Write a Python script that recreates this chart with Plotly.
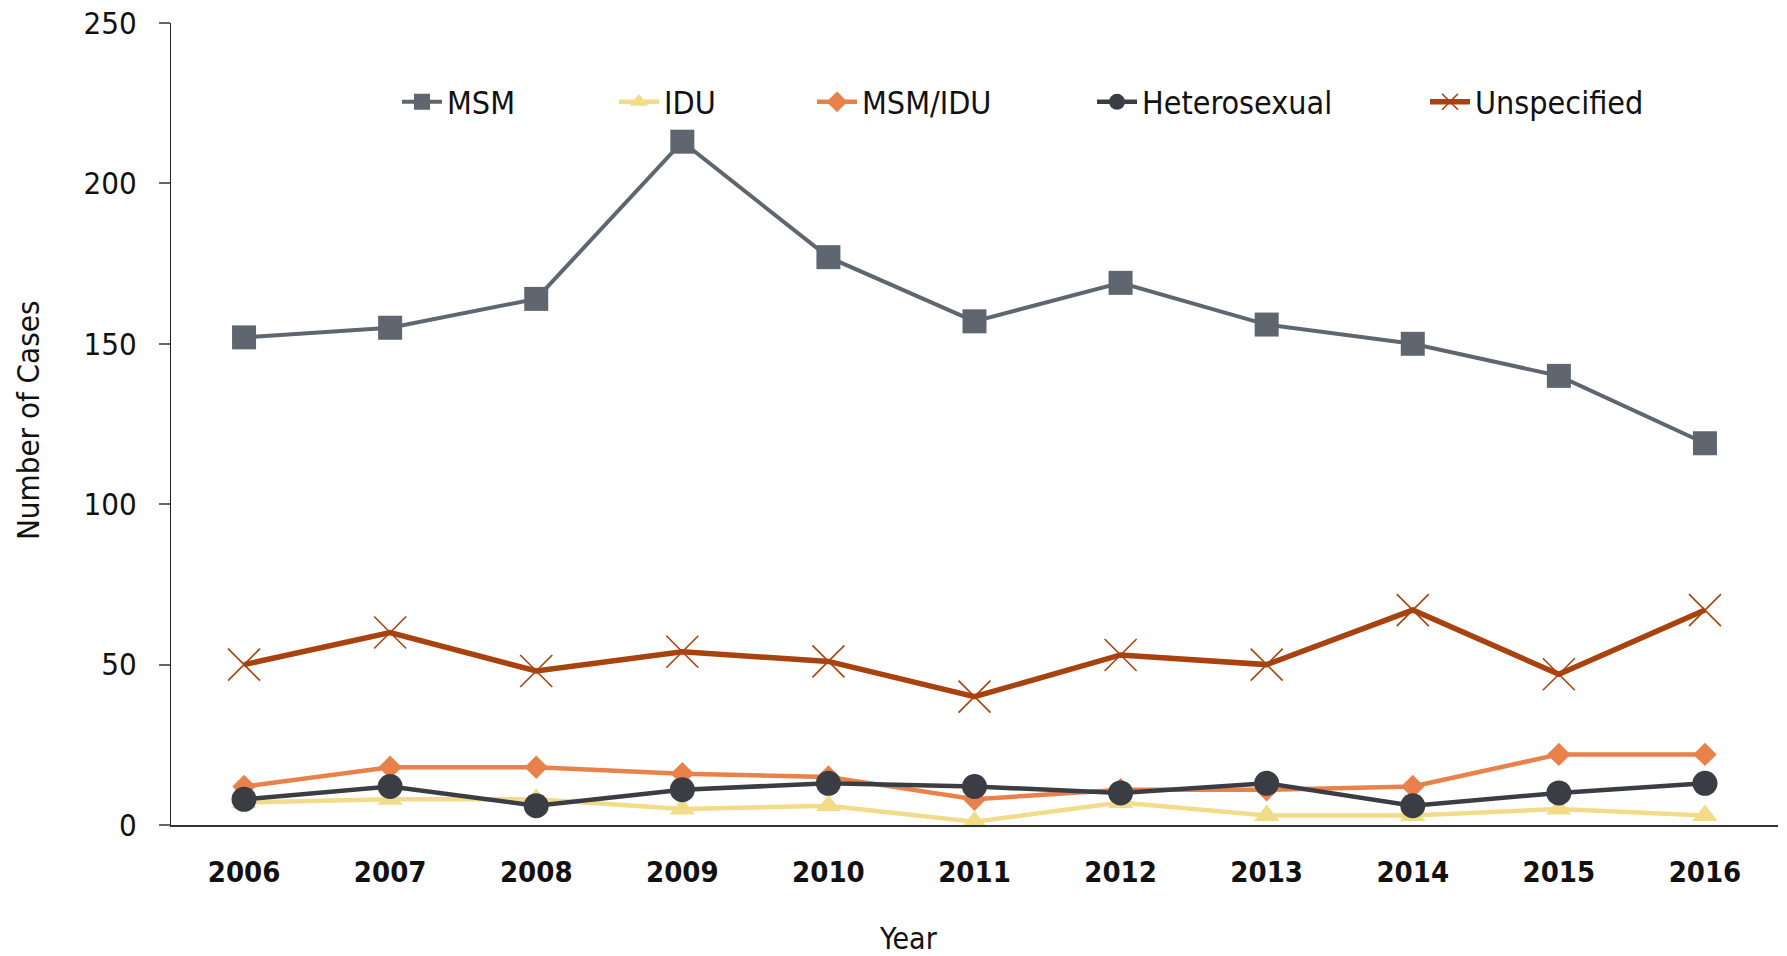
import plotly.graph_objects as go

# ── Data ────────────────────────────────────────────────────────────────────
YEARS = ["2006", "2007", "2008", "2009", "2010", "2011",
         "2012", "2013", "2014", "2015", "2016"]

MSM = [152, 155, 164, 213, 177, 157, 169, 156, 150, 140, 119]
IDU = [7, 8, 8, 5, 6, 1, 7, 3, 3, 5, 3]
MSM_IDU = [12, 18, 18, 16, 15, 8, 11, 11, 12, 22, 22]
HETERO = [8, 12, 6, 11, 13, 12, 10, 13, 6, 10, 13]
UNSPEC = [50, 60, 48, 54, 51, 40, 53, 50, 67, 47, 67]

Y_TICKS = [0, 50, 100, 150, 200, 250]

# ── Style ───────────────────────────────────────────────────────────────────
FONT = '"DejaVu Sans Condensed", "Liberation Sans Narrow", sans-serif'
INK = "#111111"

W, H = 1787, 956
L, R, T, B = 171, 9, 23, 131

series = [
    # name, values, colour, marker symbol, marker size, line width, legend text x px
    ("MSM", MSM, "#5f6670", "square", 24, 4, 448),
    ("IDU", IDU, "#f2dc8a", "triangle-up", 22, 4.5, 665),
    ("MSM/IDU", MSM_IDU, "#e8824a", "diamond", 18, 4.5, 863),
    ("Heterosexual", HETERO, "#3a3e44", "circle", 25, 4.5, 1143),
    ("Unspecified", UNSPEC, "#a8420f", "x-thin", 32, 5.5, 1476),
]

fig = go.Figure()
legends = {}
plot_w = W - L - R
plot_h = H - T - B
for i, (name, vals, col, sym, size, lw, tx) in enumerate(series):
    lg = "legend" if i == 0 else f"legend{i + 1}"
    fig.add_trace(go.Scatter(
        x=YEARS, y=vals, name=name, mode="lines+markers",
        line=dict(color=col, width=lw),
        marker=dict(symbol=sym, size=size, color=col,
                    line=dict(color=col, width=1.6 if sym == "x-thin" else 0)),
        cliponaxis=False, legend=lg,
    ))
    legends[lg] = dict(
        x=(tx - 51 - L) / plot_w, xanchor="left",
        y=1 - (102 - T) / plot_h, yanchor="middle",
        orientation="h", bgcolor="rgba(0,0,0,0)",
        font=dict(family=FONT, size=32, color=INK),
        itemwidth=40,
    )

fig.update_layout(
    width=W, height=H,
    margin=dict(l=L, r=R, t=T, b=B, autoexpand=False),
    paper_bgcolor="white", plot_bgcolor="white",
    font=dict(family=FONT, size=32, color=INK),
    showlegend=True,
    **legends,
    xaxis=dict(
        showgrid=False, zeroline=False,
        showline=True, linecolor="#333333", linewidth=1.5,
        ticks="", range=[-0.5, 10.5],
        tickfont=dict(family=FONT, size=29, color=INK, weight="bold"),
        ticklabelstandoff=20,
    ),
    yaxis=dict(
        range=[0, 250], tickvals=Y_TICKS,
        showgrid=False, zeroline=False,
        showline=True, linecolor="#222222", linewidth=1.2,
        ticks="outside", ticklen=11, tickcolor="#666666", tickwidth=1.5,
        tickfont=dict(family=FONT, size=31, color=INK),
        ticklabelstandoff=16, ticklabeloverflow="allow",
    ),
    annotations=[
        dict(text="Number of Cases", textangle=-90, showarrow=False,
             xref="paper", yref="paper",
             x=(28 - L) / plot_w, y=1 - (421 - T) / plot_h,
             xanchor="center", yanchor="middle",
             font=dict(family=FONT, size=31, color=INK)),
        dict(text="Year", showarrow=False,
             xref="paper", yref="paper",
             x=(908 - L) / plot_w, y=1 - (938 - T) / plot_h,
             xanchor="center", yanchor="middle",
             font=dict(family=FONT, size=30, color=INK)),
    ],
)

# drop the page's default body margin so the figure fills the window exactly
fig.write_html("out.html", config={"displayModeBar": False},
               post_script="document.body.style.margin='0';")
